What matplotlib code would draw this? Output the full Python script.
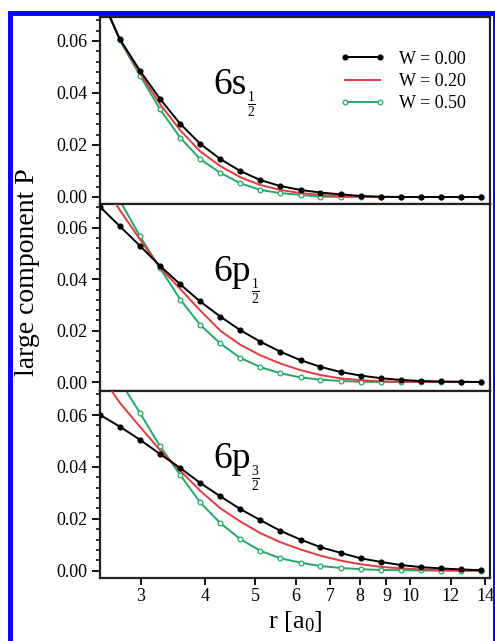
import matplotlib
matplotlib.use("Agg")
import matplotlib.pyplot as plt
from matplotlib.patches import Rectangle
from matplotlib.ticker import FixedLocator, FixedFormatter, MultipleLocator, NullLocator, NullFormatter
import numpy as np

plt.rcParams['font.family'] = ['Liberation Serif', 'DejaVu Serif']
plt.rcParams['mathtext.fontset'] = 'custom'
plt.rcParams['mathtext.rm'] = 'Liberation Serif'
plt.rcParams['mathtext.it'] = 'Liberation Serif:italic'

# radial grid (bohr), log spaced
r = [2.50, 2.73, 2.99, 3.27, 3.58, 3.91, 4.28, 4.68, 5.12, 5.60,
     6.13, 6.70, 7.33, 8.02, 8.77, 9.60, 10.49, 11.48, 12.56, 13.73]

# large component P for the three orbitals, W = 0.00 / 0.20 / 0.50
s12_w00 = [0.0776, 0.0608, 0.0485, 0.0377, 0.0281, 0.0205, 0.0146, 0.0100, 0.0065, 0.0042,
           0.0027, 0.0017, 0.0010, 0.0004, 0.0001, 0.0, 0.0, 0.0, 0.0, 0.0]
s12_w20 = [0.0780, 0.0606, 0.0476, 0.0357, 0.0256, 0.0176, 0.0119, 0.0076, 0.0046, 0.0027,
           0.0015, 0.0008, 0.0003, 0.0001, 0.0, 0.0, 0.0, 0.0, 0.0, 0.0]
s12_w50 = [0.0790, 0.0602, 0.0467, 0.0337, 0.0228, 0.0146, 0.0093, 0.0053, 0.0027, 0.0015,
           0.0008, 0.0001, 0.0, 0.0, 0.0, 0.0, 0.0, 0.0, 0.0, 0.0]

p12_w00 = [0.0682, 0.0607, 0.0530, 0.0452, 0.0380, 0.0314, 0.0255, 0.0202, 0.0157, 0.0118,
           0.0085, 0.0059, 0.0039, 0.0025, 0.0015, 0.0008, 0.0004, 0.0002, 0.0001, 0.0]
p12_w20 = [0.0800, 0.0670, 0.0555, 0.0445, 0.0362, 0.0279, 0.0200, 0.0145, 0.0104, 0.0072,
           0.0046, 0.0027, 0.0014, 0.0007, 0.0003, 0.0001, 0.0, 0.0, 0.0, 0.0]
p12_w50 = [0.0850, 0.0708, 0.0567, 0.0443, 0.0321, 0.0223, 0.0150, 0.0094, 0.0058, 0.0034,
           0.0018, 0.0009, 0.0004, 0.0001, 0.0, 0.0, 0.0, 0.0, 0.0, 0.0]

p32_w00 = [0.0601, 0.0556, 0.0505, 0.0450, 0.0396, 0.0339, 0.0287, 0.0238, 0.0195, 0.0154,
           0.0120, 0.0091, 0.0069, 0.0048, 0.0034, 0.0022, 0.0014, 0.0009, 0.0005, 0.0002]
p32_w20 = [0.0760, 0.0648, 0.0555, 0.0465, 0.0386, 0.0309, 0.0241, 0.0190, 0.0145, 0.0110,
           0.0082, 0.0058, 0.0039, 0.0025, 0.0015, 0.0009, 0.0005, 0.0003, 0.0001, 0.0]
p32_w50 = [0.0850, 0.0733, 0.0608, 0.0480, 0.0369, 0.0264, 0.0184, 0.0122, 0.0077, 0.0048,
           0.0031, 0.0018, 0.0011, 0.0006, 0.0003, 0.0002, 0.0001, 0.0, 0.0, 0.0]

orbital_names = ['6s', '6p', '6p']
orbital_j = [r'$\frac{1}{2}$', r'$\frac{1}{2}$', r'$\frac{3}{2}$']
legend_labels = ['W = 0.00', 'W = 0.20', 'W = 0.50']
xtick_vals = [3, 4, 5, 6, 7, 8, 9, 10, 12, 14]
ytick_vals = [0.00, 0.02, 0.04, 0.06]

panels = [(s12_w00, s12_w20, s12_w50), (p12_w00, p12_w20, p12_w50), (p32_w00, p32_w20, p32_w50)]
ylims = [(-0.0027, 0.0692), (-0.0035, 0.0693), (-0.0028, 0.0693)]

RED = '#e23b3f'
GREEN = '#22a968'

fig = plt.figure(figsize=(4.95, 6.41), dpi=100)
gs = fig.add_gridspec(3, 1, left=100/495, right=490/495, top=1-17/641, bottom=1-578/641, hspace=0)

axes = []
for i, (w0, w2, w5) in enumerate(panels):
    ax = fig.add_subplot(gs[i])
    axes.append(ax)
    ax.plot(r, w0, color='black', lw=1.4, marker='o', ms=3.4, mfc='black', mec='black',
            label=legend_labels[0], zorder=4)
    ax.plot(r, w2, color=RED, lw=1.4, label=legend_labels[1], zorder=3)
    ax.plot(r, w5, color=GREEN, lw=1.4, marker='o', ms=3.4, mfc='white', mec=GREEN, mew=0.9,
            label=legend_labels[2], zorder=2)

    ax.set_xscale('log')
    ax.set_xlim(2.5, 14.3)
    ax.set_ylim(*ylims[i])
    ax.yaxis.set_major_locator(FixedLocator(ytick_vals))
    ax.yaxis.set_major_formatter(FixedFormatter(['%.2f' % v for v in ytick_vals]))
    ax.yaxis.set_minor_locator(MultipleLocator(0.004))
    ax.tick_params(axis='y', which='major', direction='out', length=6, width=1.3, labelsize=13, pad=3)
    ax.tick_params(axis='y', which='minor', direction='out', length=3, width=1.1)
    ax.xaxis.set_minor_locator(NullLocator())
    ax.xaxis.set_minor_formatter(NullFormatter())
    if i < 2:
        ax.xaxis.set_major_locator(NullLocator())
    else:
        ax.xaxis.set_major_locator(FixedLocator(xtick_vals))
        ax.xaxis.set_major_formatter(FixedFormatter([str(v) for v in xtick_vals]))
        ax.tick_params(axis='x', which='major', direction='out', length=5, width=1.3, labelsize=13, pad=2)
    for sp in ax.spines.values():
        sp.set_linewidth(1.6)
        sp.set_color('#222222')

    # orbital label with a small j fraction as subscript
    t = ax.text(0.29, 0.73, orbital_names[i], transform=ax.transAxes, ha='left', va='top', fontsize=27)
    ax.annotate(orbital_j[i], xy=(1, 0), xycoords=t, xytext=(0.5, 9), textcoords='offset points',
                ha='left', va='top', fontsize=14)

axes[0].legend(loc='upper left', bbox_to_anchor=(0.615, 0.82), frameon=False, fontsize=13,
               numpoints=2, handlelength=2.5, handletextpad=0.8, labelspacing=0.3,
               borderpad=0, borderaxespad=0)

axes[2].set_xlabel(r'r [a$_{\mathrm{0}}$]', fontsize=19, labelpad=3)
fig.text(28/495, 1-272/641, 'large component P', rotation=90, ha='center', va='center', fontsize=20)

# blue frame around the figure
fig.add_artist(Rectangle((9.5/495, -0.1), (494.5-9.5)/495, 1.1-12.5/641, transform=fig.transFigure,
                         fill=False, edgecolor='#0a0aff', linewidth=3.6, zorder=10))

fig.savefig('out.png', dpi=100)
